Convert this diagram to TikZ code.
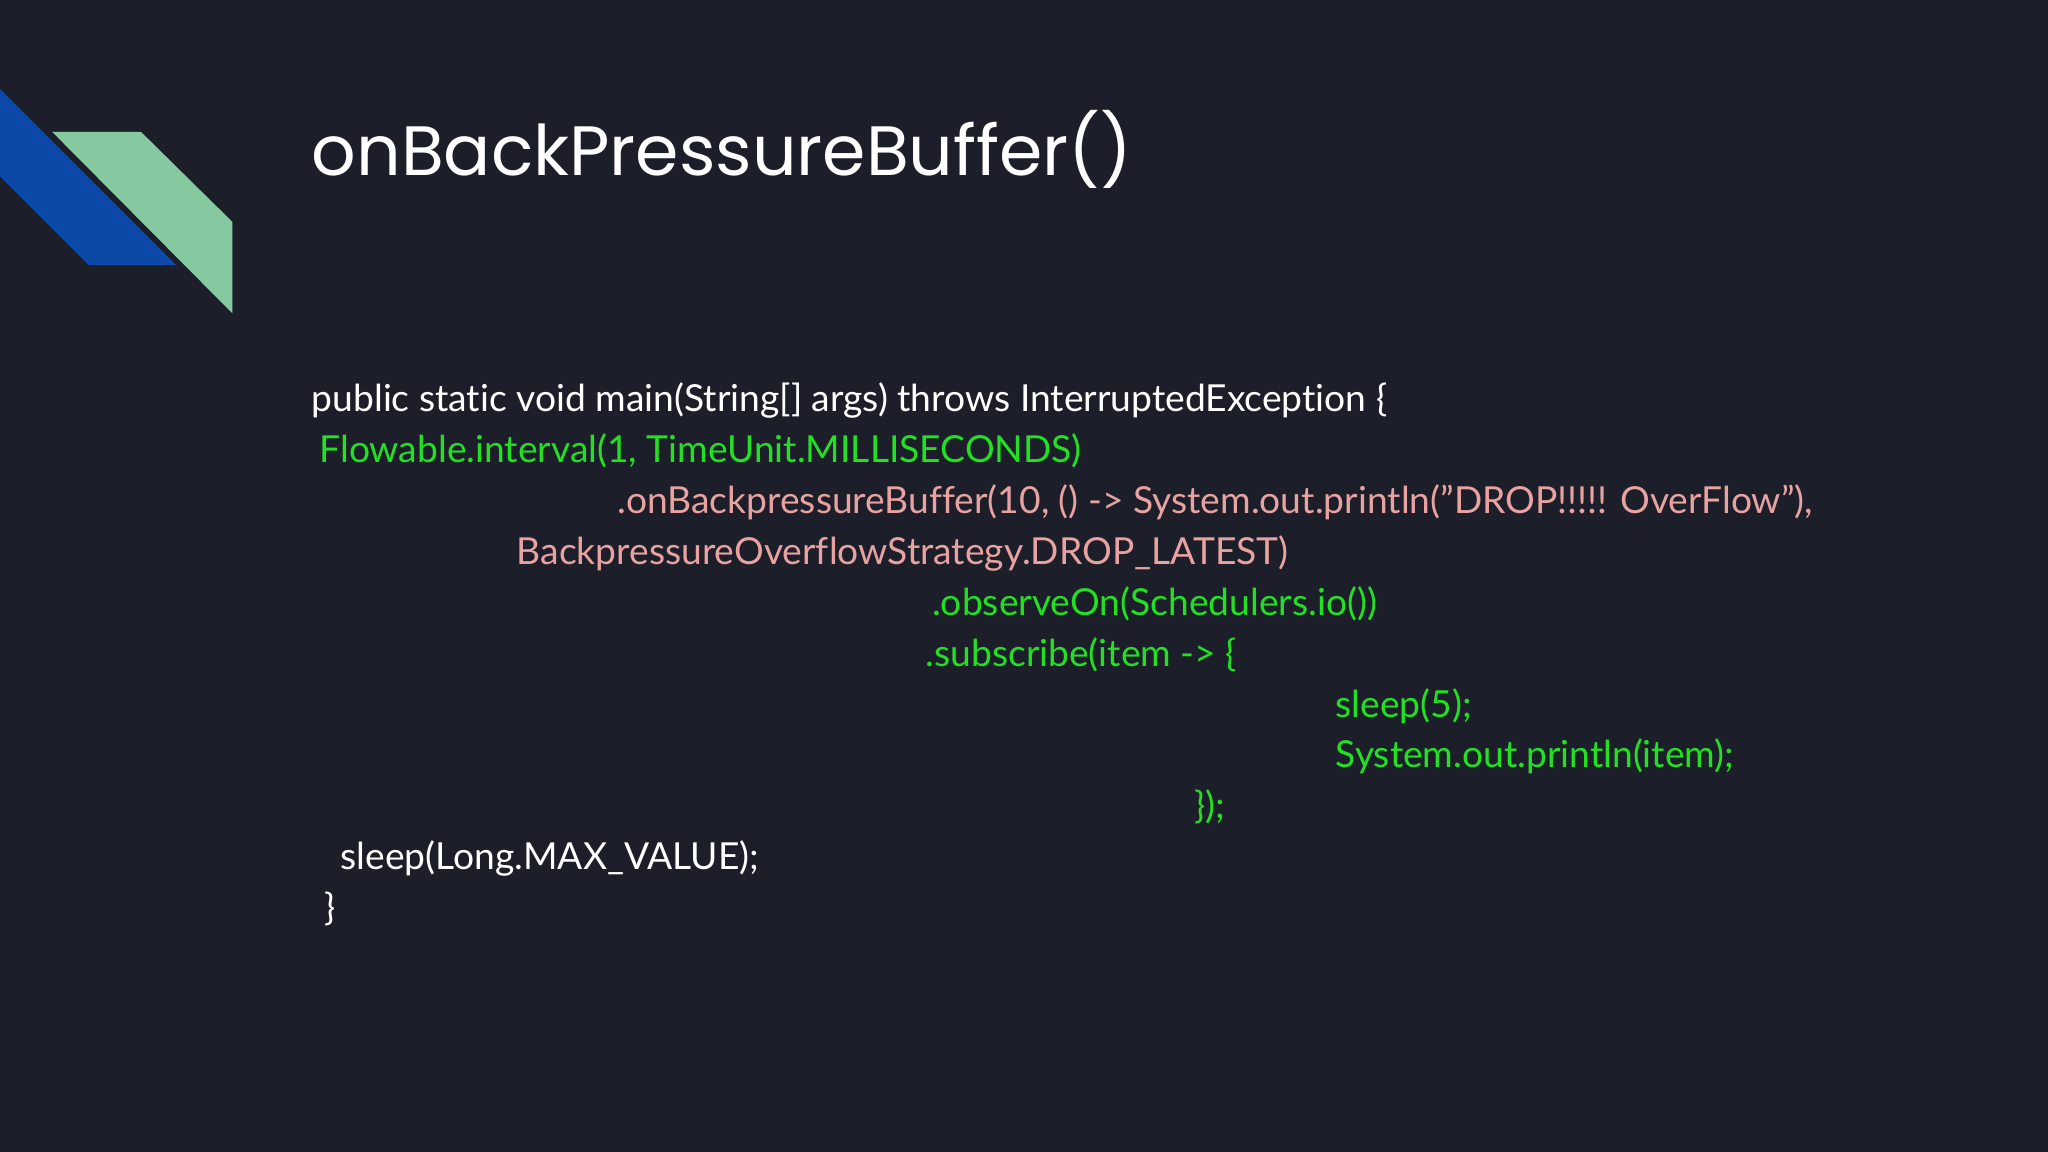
\documentclass[tikz,border=0pt]{standalone}
\usepackage{fontspec}
\setmainfont[Ligatures=NoCommon]{Lato}
\newfontfamily\titlefont{Poppins}
\definecolor{bg}{HTML}{1C1F2A}
\definecolor{cgreen}{HTML}{22E022}
\definecolor{cpink}{HTML}{E8A2A0}
\definecolor{cblue}{HTML}{0B48A8}
\definecolor{cmint}{HTML}{86C9A0}
\begin{document}
\begin{tikzpicture}[x=0.01cm,y=-0.01cm,
  code/.style={anchor=base west,inner sep=0pt,font=\fontsize{8.1}{10}\selectfont},
  wt/.style={code,text=white},
  gr/.style={code,text=cgreen},
  pk/.style={code,text=cpink}]
\fill[bg] (0,0) rectangle (1568,882);
\useasboundingbox (0,0) rectangle (1568,882);
\fill[cblue] (0,68) -- (135,203) -- (68,203) -- (0,135) -- cycle;
\fill[cmint] (40,101) -- (108,101) -- (178,170) -- (178,240) -- cycle;
\node[anchor=base west,inner sep=0pt,text=white,font=\titlefont\fontsize{15.2}{19}\selectfont] (title) at (238,134) {onBackPressureBuffer()};
\node[wt] (l1) at (238,315) {public static void main(String[] args) throws InterruptedException \{};
\node[gr] (l2) at (244,354) {Flowable.interval(1, TimeUnit.MILLISECONDS)};
\node[pk] (l3) at (472,393) {.onBackpressureBuffer(10, () -> System.out.println(\symbol{34}DROP!!!!! OverFlow\symbol{34}),};
\node[pk] (l4) at (395,432) {BackpressureOverflowStrategy.DROP\_LATEST)};
\node[gr] (l5) at (713,471) {.observeOn(Schedulers.io())};
\node[gr] (l6) at (708,510) {.subscribe(item -> \{};
\node[gr] (l7) at (1022,549) {sleep(5);};
\node[gr] (l8) at (1022,588) {System.out.println(item);};
\node[gr] (l9) at (914,627) {\});};
\node[wt] (l10) at (260,666) {sleep(Long.MAX\_VALUE);};
\node[wt] (l11) at (248,705) {\}};
\end{tikzpicture}
\end{document}
